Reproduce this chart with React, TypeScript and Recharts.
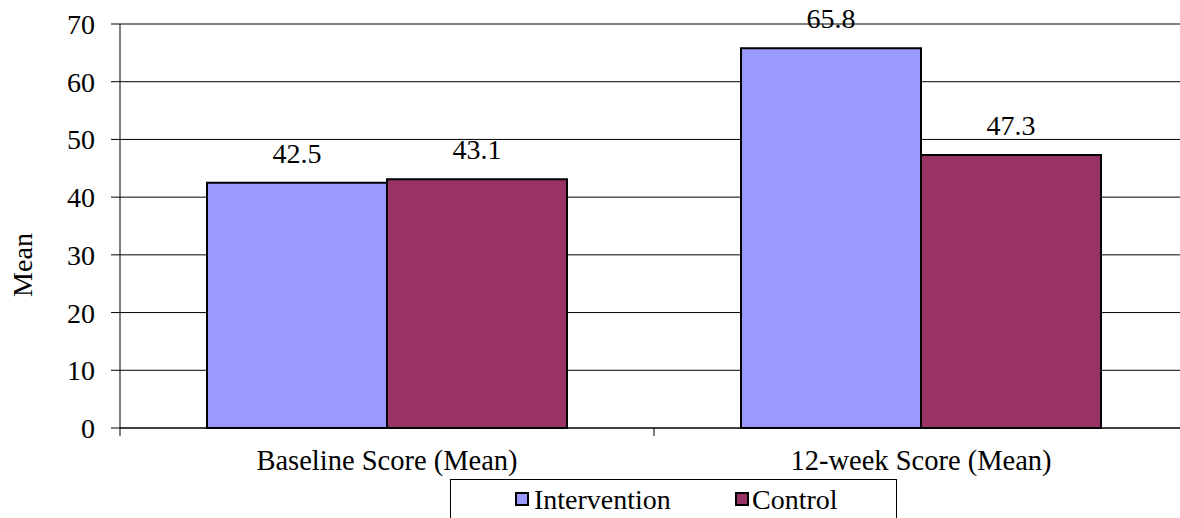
import React from 'react';
import { BarChart, Bar, XAxis, YAxis, CartesianGrid, LabelList, Legend } from 'recharts';

const categories = ['Baseline Score (Mean)', '12-week Score (Mean)'];
const interventionValues = [42.5, 65.8];
const controlValues = [43.1, 47.3];
const yTicks = [0, 10, 20, 30, 40, 50, 60, 70];
const seriesNames = ['Intervention', 'Control'];
const seriesColors = ['#9999FF', '#993366'];

const data = categories.map((name, i) => ({
  name,
  intervention: interventionValues[i],
  control: controlValues[i],
}));

const FONT = '"Liberation Serif", "Times New Roman", serif';
const FS = 28;
const CHART_W = 1200;
const CHART_H = 518;
const MARGIN = { top: 24, right: 12, bottom: 50, left: 20 };
const Y_AXIS_W = 100;
const PLOT_W = CHART_W - MARGIN.left - MARGIN.right - Y_AXIS_W;
const HALF_BAND = PLOT_W / categories.length / 2;

const CategoryTick = (props: any) => {
  const { x, y, payload, index } = props;
  const last = index === categories.length - 1;
  return (
    <g>
      <line x1={x - HALF_BAND} x2={x - HALF_BAND} y1={y} y2={y + 8} stroke="#000" strokeWidth={1} />
      {last && <line x1={x + HALF_BAND} x2={x + HALF_BAND} y1={y} y2={y + 8} stroke="#000" strokeWidth={1} />}
      <text x={x} y={y + 42} textAnchor="middle" fontSize={28.5} fill="#000" fontFamily={FONT}>
        {payload.value}
      </text>
    </g>
  );
};

const YLabel = () => (
  <text transform="translate(32,265) rotate(-90)" textAnchor="middle" fontSize={FS} fill="#000" fontFamily={FONT}>
    Mean
  </text>
);

const LegendBox = () => (
  <svg width={447} height={40} style={{ display: 'block' }}>
    <rect x={0.5} y={0.5} width={446} height={50} fill="#fff" stroke="#000" strokeWidth={1} />
    <rect x={66} y={14} width={12} height={12} fill={seriesColors[0]} stroke="#000" strokeWidth={2} />
    <text x={84} y={30} fontSize={FS} fill="#000" fontFamily={FONT}>{seriesNames[0]}</text>
    <rect x={286} y={14} width={12} height={12} fill={seriesColors[1]} stroke="#000" strokeWidth={2} />
    <text x={302} y={30} fontSize={FS} fill="#000" fontFamily={FONT}>{seriesNames[1]}</text>
  </svg>
);

export default function App() {
  return (
    <div style={{ position: 'absolute', left: 0, top: 0, width: 1180, height: 518, overflow: 'hidden', background: '#fff' }}>
      <BarChart
        width={CHART_W}
        height={CHART_H}
        data={data}
        margin={MARGIN}
        barGap={0}
        style={{ fontFamily: FONT }}
      >
        <CartesianGrid vertical={false} stroke="#000" strokeWidth={1} />
        <XAxis
          dataKey="name"
          height={40}
          axisLine={{ stroke: '#000', strokeWidth: 1 }}
          tickLine={false}
          tickSize={0}
          tickMargin={0}
          interval={0}
          tick={<CategoryTick />}
        />
        <YAxis
          width={Y_AXIS_W}
          domain={[0, 70]}
          ticks={yTicks}
          interval={0}
          axisLine={{ stroke: '#000', strokeWidth: 1 }}
          tickLine={{ stroke: '#000', strokeWidth: 1 }}
          tickSize={9}
          tickMargin={16}
          tick={{ fill: '#000', fontSize: FS, fontFamily: FONT }}
          label={<YLabel />}
        />
        <Legend
          layout="horizontal"
          verticalAlign="middle"
          align="center"
          wrapperStyle={{ left: 450, top: 479, width: 447, height: 40 }}
          content={<LegendBox />}
        />
        <Bar dataKey="intervention" name={seriesNames[0]} fill={seriesColors[0]} stroke="#000" strokeWidth={2} barSize={180} isAnimationActive={false}>
          <LabelList dataKey="intervention" position="top" offset={20} fill="#000" fontSize={FS} fontFamily={FONT} formatter={(v: any) => Number(v).toFixed(1)} />
        </Bar>
        <Bar dataKey="control" name={seriesNames[1]} fill={seriesColors[1]} stroke="#000" strokeWidth={2} barSize={180} isAnimationActive={false}>
          <LabelList dataKey="control" position="top" offset={20} fill="#000" fontSize={FS} fontFamily={FONT} formatter={(v: any) => Number(v).toFixed(1)} />
        </Bar>
      </BarChart>
    </div>
  );
}
